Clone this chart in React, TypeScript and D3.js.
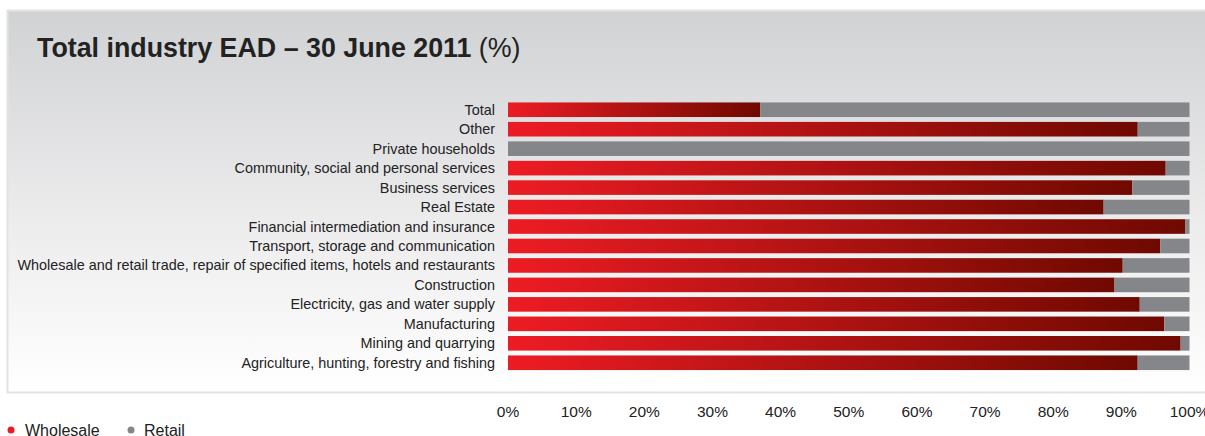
import React from "react";
import * as d3 from "d3";

const categories = [
  "Total",
  "Other",
  "Private households",
  "Community, social and personal services",
  "Business services",
  "Real Estate",
  "Financial intermediation and insurance",
  "Transport, storage and communication",
  "Wholesale and retail trade, repair of specified items, hotels and restaurants",
  "Construction",
  "Electricity, gas and water supply",
  "Manufacturing",
  "Mining and quarrying",
  "Agriculture, hunting, forestry and fishing",
];
const wholesale = [37.0, 92.4, 0, 96.5, 91.6, 87.4, 99.4, 95.7, 90.2, 89.0, 92.7, 96.3, 98.7, 92.4];
const ticks = [0, 10, 20, 30, 40, 50, 60, 70, 80, 90, 100];
const seriesNames = ["Wholesale", "Retail"];

const W = 1205, H = 436;
const font = "'Liberation Sans', Arial, sans-serif";

export default function App() {
  const x = d3.scaleLinear().domain([0, 100]).range([508, 1189.5]);
  const y = d3.scaleBand().domain(categories).range([100.5, 372]).paddingInner(0.25).paddingOuter(0.1);
  return (
    <svg width={W} height={H} style={{ position: "absolute", left: 0, top: 0 }} fontFamily={font}>
      <defs>
        <linearGradient id="bg" x1="0" y1="0" x2="0" y2="1">
          <stop offset="0" stopColor="#d1d2d4" />
          <stop offset="0.55" stopColor="#ececed" />
          <stop offset="1" stopColor="#ffffff" />
        </linearGradient>
        <linearGradient id="red" x1="0" y1="0" x2="1" y2="0">
          <stop offset="0" stopColor="#ed1c24" />
          <stop offset="1" stopColor="#6f0900" />
        </linearGradient>
      </defs>
      <rect x={0} y={0} width={W} height={H} fill="#ffffff" />
      <rect x={7.5} y={10.5} width={W} height={382} fill="url(#bg)" stroke="#e3e3e4" strokeWidth={2} />
      <text x={37} y={57} fontSize={26.8} fill="#222" fontWeight="bold">
        Total industry EAD – 30 June 2011 <tspan fontWeight="normal">(%)</tspan>
      </text>
      {categories.map((c, i) => {
        const yy = y(c)!;
        const h = y.bandwidth();
        return (
          <g key={c}>
            {wholesale[i] > 0 && (
              <rect x={x(0)} y={yy} width={x(wholesale[i]) - x(0)} height={h} fill="url(#red)" />
            )}
            <rect x={x(wholesale[i])} y={yy} width={x(100) - x(wholesale[i])} height={h} fill="#858689" />
            <text x={495} y={yy + h / 2} dy="0.35em" textAnchor="end" fontSize={14.4} fill="#222">
              {c}
            </text>
          </g>
        );
      })}
      {ticks.map((t) => (
        <text key={t} x={x(t)} y={416.5} textAnchor="middle" fontSize={15.5} fill="#222">
          {t}%
        </text>
      ))}
      <circle cx={11} cy={430} r={3.5} fill="#ed1c24" />
      <text x={25} y={435.5} fontSize={16} fill="#222">{seriesNames[0]}</text>
      <circle cx={131} cy={430} r={3.5} fill="#858689" />
      <text x={144} y={435.5} fontSize={16} fill="#222">{seriesNames[1]}</text>
    </svg>
  );
}
